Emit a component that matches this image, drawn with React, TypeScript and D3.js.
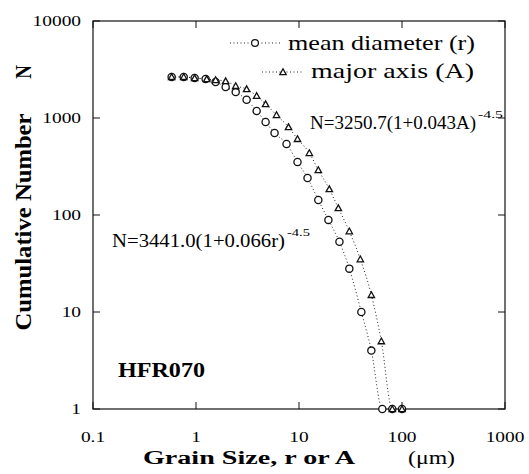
import React from "react";
import * as d3 from "d3";

// 读图得到的数据：横轴粒径 (μm)，纵轴累计颗粒数 N
const meanDiameter: [number, number][] = [
  [0.58, 2650], [0.76, 2650], [0.97, 2580], [1.24, 2520], [1.55, 2350],
  [1.94, 2090], [2.43, 1850], [3.1, 1540], [3.88, 1180], [4.74, 910],
  [5.79, 700], [7.57, 540], [9.67, 352], [12.1, 241], [15.4, 143],
  [19.3, 89], [24.7, 53], [30.8, 28], [40.3, 10], [50.4, 4],
  [64.4, 1], [80.5, 1], [100, 1],
];

const majorAxis: [number, number][] = [
  [0.58, 2650], [0.76, 2650], [0.97, 2580], [1.27, 2520], [1.55, 2465],
  [1.94, 2406], [2.43, 2140], [3.1, 1990], [3.88, 1690], [4.74, 1390],
  [6.05, 1074], [7.91, 807], [9.67, 608], [12.6, 436], [15.4, 291],
  [19.7, 185], [24.1, 118], [30.8, 68], [39.4, 35], [50.4, 15],
  [63.0, 5], [80.5, 1], [100, 1],
];

const xTicks = [0.1, 1, 10, 100, 1000];
const xTickLabels = ["0.1", "1", "10", "100", "1000"];
const yTicks = [1, 10, 100, 1000, 10000];
const yTickLabels = ["1", "10", "100", "1000", "10000"];

const serif = "'Liberation Serif', 'Times New Roman', serif";

function Txt(props: any) {
  const { x, y, anchor = "start", size, weight = "normal", len, children } = props;
  return (
    <text
      x={x}
      y={y}
      textAnchor={anchor}
      fontSize={size}
      fontWeight={weight}
      fontFamily={serif}
      textLength={len}
      lengthAdjust="spacingAndGlyphs"
    >
      {children}
    </text>
  );
}

function Triangle({ cx, cy }: { cx: number; cy: number }) {
  const s = 3.2;
  return (
    <path
      d={`M${cx},${cy - s} L${cx + s},${cy + s * 0.8} L${cx - s},${cy + s * 0.8} Z`}
      fill="white"
      stroke="#111"
      strokeWidth={1.3}
    />
  );
}

export default function App() {
  const width = 529;
  const height = 474;
  const left = 93;
  const right = 505;
  const top = 21;
  const bottom = 409;

  const x = d3.scaleLog().domain([0.1, 1000]).range([left, right]);
  const y = d3.scaleLog().domain([1, 10000]).range([bottom, top]);

  const line = d3
    .line<[number, number]>()
    .x((d) => x(d[0]))
    .y((d) => y(d[1]))
    .curve(d3.curveMonotoneX);

  const tickLen = 7;

  return (
    <svg
      width={width}
      height={height}
      style={{ position: "absolute", left: 0, top: 0, background: "white" }}
    >
      <rect x={0} y={0} width={width} height={height} fill="white" />

      {/* 外框 */}
      <rect
        x={left}
        y={top}
        width={right - left}
        height={bottom - top}
        fill="none"
        stroke="#111"
        strokeWidth={1.2}
      />

      {/* 刻度，朝内 */}
      {xTicks.map((t, i) => (
        <g key={`xt-${i}`}>
          <line x1={x(t)} x2={x(t)} y1={bottom} y2={bottom - tickLen} stroke="#111" />
          <line x1={x(t)} x2={x(t)} y1={top} y2={top + tickLen} stroke="#111" />
          <text
            transform={`translate(${x(t)},442) scale(1.25,1)`}
            textAnchor="middle"
            fontSize={15.5}
            fontFamily={serif}
          >
            {xTickLabels[i]}
          </text>
        </g>
      ))}
      {yTicks.map((t, i) => (
        <g key={`yt-${i}`}>
          <line x1={left} x2={left + tickLen} y1={y(t)} y2={y(t)} stroke="#111" />
          <line x1={right} x2={right - tickLen} y1={y(t)} y2={y(t)} stroke="#111" />
          <text
            transform={`translate(81,${y(t) + 5}) scale(1.25,1)`}
            textAnchor="end"
            fontSize={15.5}
            fontFamily={serif}
          >
            {yTickLabels[i]}
          </text>
        </g>
      ))}

      {/* 点线 */}
      <path d={line(meanDiameter) || ""} fill="none" stroke="#222" strokeWidth={1} strokeDasharray="1 2.5" />
      <path d={line(majorAxis) || ""} fill="none" stroke="#222" strokeWidth={1} strokeDasharray="1 2.5" />

      {meanDiameter.map((d, i) => (
        <circle key={`c-${i}`} cx={x(d[0])} cy={y(d[1])} r={3.6} fill="white" stroke="#111" strokeWidth={1.3} />
      ))}
      {majorAxis.map((d, i) => (
        <Triangle key={`t-${i}`} cx={x(d[0])} cy={y(d[1])} />
      ))}

      {/* 图例 */}
      <line x1={230} x2={281} y1={43} y2={43} stroke="#222" strokeDasharray="1 2.5" />
      <circle cx={255} cy={43} r={3.4} fill="white" stroke="#111" strokeWidth={1.2} />
      <Txt x={475} y={50} anchor="end" size={21} len={187}>mean diameter (r)</Txt>

      <line x1={262} x2={304} y1={72} y2={72} stroke="#222" strokeDasharray="1 2.5" />
      <Triangle cx={283} cy={72} />
      <Txt x={474} y={78} anchor="end" size={21} len={163}>major axis (A)</Txt>

      {/* 拟合公式 */}
      <Txt x={112} y={247} size={18} len={173}>N=3441.0(1+0.066r)</Txt>
      <Txt x={287} y={236} size={11} len={23}>-4.5</Txt>
      <Txt x={310} y={129} size={18} len={166}>N=3250.7(1+0.043A)</Txt>
      <Txt x={478} y={118} size={11} len={25}>-4.5</Txt>

      <Txt x={118} y={377} size={20} weight="bold" len={87}>HFR070</Txt>

      {/* 坐标轴标题 */}
      <Txt x={143} y={464} size={18.5} weight="bold" len={212}>Grain Size, r or A</Txt>
      <Txt x={408} y={464} size={18.5} len={47}>(μm)</Txt>

      <text
        transform="translate(31,222) scale(1.25,1) rotate(-90)"
        textAnchor="middle"
        fontSize={19}
        fontWeight="bold"
        fontFamily={serif}
        textLength={217}
        lengthAdjust="spacingAndGlyphs"
      >
        Cumulative Number
      </text>
      <text
        transform="translate(31,72) scale(1.25,1) rotate(-90)"
        textAnchor="middle"
        fontSize={19}
        fontWeight="bold"
        fontFamily={serif}
      >
        N
      </text>
    </svg>
  );
}
